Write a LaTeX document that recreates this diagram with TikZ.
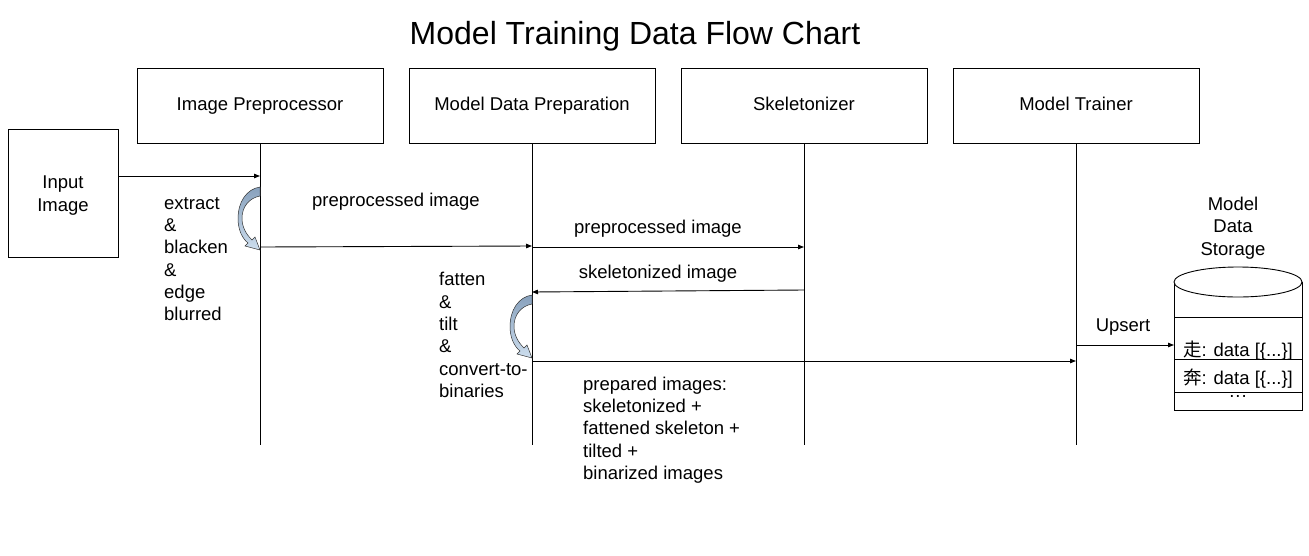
\documentclass[tikz,border=0pt]{standalone}
\usepackage{fontspec}
\setmainfont{Liberation Sans}
\newfontfamily\cjk{Noto Sans CJK SC}
\usetikzlibrary{arrows.meta}
\begin{document}
\begin{tikzpicture}[x=1pt,y=-1pt,
  txt/.style={font=\fontsize{18.5}{22.3}\selectfont, inner sep=0pt},
  actor/.style={draw, line width=0.9pt, minimum width=246pt, minimum height=75pt, text height=13.3pt, text depth=3.9pt, font=\fontsize{18.5}{22.3}\selectfont},
  life/.style={line width=0.9pt},
  msg/.style={line width=0.9pt, -{Triangle[length=6pt,width=4.5pt]}},
  loopar/.style={draw=black!80, line width=0.5pt, top color={rgb,255:red,135;green,160;blue,188}, bottom color={rgb,255:red,205;green,222;blue,238}},
  dbline/.style={line width=0.9pt}]
\useasboundingbox (0,0) rectangle (1309,555);

\node[font=\fontsize{32}{38}\selectfont] (title) at (635,36) {Model Training Data Flow Chart};

\node[actor] (ip) at (260,105.5) {Image Preprocessor};
\node[actor] (mdp) at (532,105.5) {Model Data Preparation};
\node[actor] (sk) at (804,105.5) {Skeletonizer};
\node[actor] (mt) at (1076,105.5) {Model Trainer};

\node[draw, line width=0.9pt, minimum width=110pt, minimum height=128pt] (in) at (63,193) {};
\node[txt, align=center] (inl) at (63,195.5) {Input\\Image};

% lifelines
\draw[life] (ip.south) -- ++(0,302);
\draw[life] (mdp.south) -- ++(0,302);
\draw[life] (sk.south) -- ++(0,302);
\draw[life] (mt.south) -- ++(0,302);

% messages
\draw[msg] (in.east |- 0,176) -- (ip.south |- 0,176);
\draw[msg] (ip.south |- 0,247) -- (mdp.south |- 0,246);
\draw[msg] (mdp.south |- 0,247) -- (sk.south |- 0,247);
\draw[msg] (sk.south |- 0,290) -- (mdp.south |- 0,292);
\draw[msg] (mdp.south |- 0,361) -- (mt.south |- 0,361);
\coordinate (dbw) at (1174,345);
\draw[msg] (mt.south |- 0,345) -- (dbw);

% curved self arrows
\path[loopar, shift={(260,187)}] (0,0) .. controls (-14,2) and (-22,16) .. (-22,31)
  .. controls (-22,44) and (-17,52) .. (-12,56) -- (-15,59) -- (0,63) -- (-5,50) -- (-8,53)
  .. controls (-14,47) and (-18,40) .. (-18,31) .. controls (-18,20) and (-11,11) .. (0,9) -- cycle;
\path[loopar, shift={(532,295)}] (0,0) .. controls (-14,2) and (-22,16) .. (-22,31)
  .. controls (-22,44) and (-17,52) .. (-12,56) -- (-15,59) -- (0,63) -- (-5,50) -- (-8,53)
  .. controls (-14,47) and (-18,40) .. (-18,31) .. controls (-18,20) and (-11,11) .. (0,9) -- cycle;

% labels
\node[txt, align=left, anchor=west] (l1) at (164,259) {extract\\\&\\blacken\\\&\\edge\\blurred};
\node[txt] (l2) at (396,202) {preprocessed image};
\node[txt] (l3) at (658,229) {preprocessed image};
\node[txt] (l4) at (658,274) {skeletonized image};
\node[txt, align=left, anchor=west] (l5) at (439,335) {fatten\\\&\\tilt\\\&\\convert-to-\\binaries};
\node[txt, align=left, anchor=west] (l6) at (583,430) {prepared images:\\skeletonized +\\fattened skeleton +\\tilted +\\binarized images};
\node[txt] (l7) at (1123,327) {Upsert};

% database
\node[txt, align=center] (dbl) at (1233,228) {Model\\Data\\Storage};
\draw[dbline] (1174,282) -- (1174,410) -- (1302,410) -- (1302,282);
\draw[dbline, fill=white] (1238,282) ellipse [x radius=64, y radius=15];
\draw[dbline] (1174,317) -- (1302,317);
\draw[dbline] (1174,359) -- (1302,359);
\draw[dbline] (1174,392) -- (1302,392);
\node[txt] (r1) at (1238,351) {{\cjk 走}: data [\{...\}]};
\node[txt] (r2) at (1238,379) {{\cjk 奔}: data [\{...\}]};
\node[txt] (r3) at (1238,398) {\textperiodcentered\textperiodcentered\textperiodcentered};
\end{tikzpicture}
\end{document}
